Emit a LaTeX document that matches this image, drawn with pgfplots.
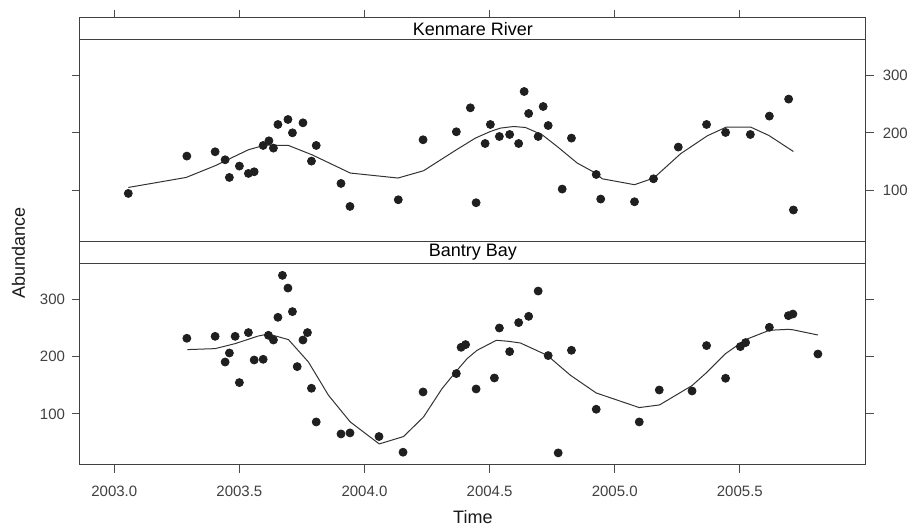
\documentclass[border=0pt]{standalone}
\usepackage{pgfplots}
\usepackage{pgfplotstable}
\pgfplotsset{compat=1.18}
\usepackage{fontspec}
\setmainfont{Liberation Sans}
\usetikzlibrary{calc}

% Kenmare River: observations and smooth
\pgfplotstableread{
x y
2003.056 94.8
2003.290 159.8
2003.403 167.3
2003.443 153.4
2003.460 122.6
2003.500 142.4
2003.536 129.6
2003.559 132.5
2003.595 178.3
2003.618 186.4
2003.636 173.7
2003.654 214.8
2003.694 223.5
2003.712 200.3
2003.754 217.7
2003.788 151.1
2003.807 178.3
2003.906 112.2
2003.942 72.2
2004.135 83.8
2004.234 188.2
2004.367 202.1
2004.423 243.8
2004.446 78.6
2004.482 181.7
2004.503 214.8
2004.539 193.9
2004.580 197.4
2004.616 181.7
2004.638 272.2
2004.656 233.9
2004.694 193.9
2004.714 246.1
2004.734 213.0
2004.790 102.4
2004.827 191.1
2004.926 127.8
2004.944 85.0
2005.079 80.3
2005.155 120.3
2005.254 175.5
2005.367 214.8
2005.443 200.9
2005.542 197.4
2005.618 229.4
2005.695 259.0
2005.714 66.0
}\kenpts

\pgfplotstableread{
x y
2003.056 105.2
2003.287 122.6
2003.403 143.0
2003.536 170.8
2003.603 179.0
2003.696 178.3
2003.790 162.1
2003.943 130.3
2004.134 121.6
2004.236 134.3
2004.363 169.6
2004.443 191.1
2004.503 202.6
2004.543 208.5
2004.596 211.3
2004.643 209.6
2004.710 196.9
2004.770 176.5
2004.850 147.7
2004.923 130.3
2004.950 120.3
2005.079 110.0
2005.156 121.6
2005.263 163.8
2005.370 195.1
2005.446 210.3
2005.543 210.3
2005.616 195.7
2005.714 167.8
}\kenfit

% Bantry Bay
\pgfplotstableread{
x y
2003.290 231.7
2003.403 235.1
2003.443 190.4
2003.460 206.1
2003.483 235.1
2003.500 154.6
2003.536 241.6
2003.559 193.9
2003.595 195.1
2003.616 236.9
2003.636 228.7
2003.654 268.2
2003.672 341.2
2003.694 319.1
2003.712 278.1
2003.731 182.4
2003.754 228.7
2003.772 241.6
2003.788 144.7
2003.807 86.1
2003.906 65.2
2003.942 67.0
2004.058 60.7
2004.154 33.4
2004.234 138.3
2004.367 170.3
2004.386 216.0
2004.404 220.7
2004.446 143.5
2004.519 162.6
2004.539 249.6
2004.580 208.5
2004.616 259.0
2004.656 269.9
2004.694 313.9
2004.734 201.6
2004.774 32.2
2004.827 210.8
2004.926 108.2
2005.098 86.1
2005.178 141.7
2005.309 140.0
2005.367 219.0
2005.443 162.1
2005.502 217.2
2005.523 224.2
2005.618 250.8
2005.694 271.1
2005.712 273.9
2005.812 204.3
}\banpts

\pgfplotstableread{
x y
2003.292 212.0
2003.403 213.7
2003.483 222.4
2003.576 235.7
2003.616 239.1
2003.696 229.4
2003.776 190.4
2003.856 132.5
2003.943 86.1
2004.059 47.8
2004.156 60.7
2004.236 94.8
2004.310 144.2
2004.370 176.0
2004.410 196.3
2004.450 210.8
2004.527 228.2
2004.576 226.4
2004.623 223.5
2004.730 202.1
2004.823 167.3
2004.926 136.5
2005.098 111.1
2005.179 115.7
2005.309 149.4
2005.367 172.0
2005.443 205.0
2005.523 229.4
2005.618 245.6
2005.694 247.3
2005.712 246.5
2005.812 237.4
}\banfit

\pgfplotsset{
  panel/.style={
    scale only axis, width=392.85pt, height=111.75pt,
    xmin=2002.863, xmax=2006.003, ymin=12, ymax=401,
    clip=false,
    axis line style={black!75, line width=0.5pt},
    tick align=outside, major tick length=4pt,
    tick style={black!70, line width=0.5pt},
    xtick={2003,2003.5,2004,2004.5,2005,2005.5},
    ytick={100,200,300},
    ticklabel style={font=\fontsize{7.5}{9}\selectfont, text=black!75},
    /pgf/number format/assume math mode=true,
  },
  pts/.style={only marks, mark=*, mark size=2pt, color=black!88},
  fit/.style={no marks, color=black!80, line width=0.5pt},
}

\begin{document}
\begin{tikzpicture}
\useasboundingbox (-40pt,-142.5pt) rectangle (414pt,120.5pt);

\begin{axis}[panel, name=top,
  xtick pos=upper, xticklabels={},
  yticklabel pos=right, ytick pos=both,
  yticklabel style={xshift=1pt}]
  \addplot[pts] table {\kenpts};
  \addplot[fit] table {\kenfit};
  \draw[black!75, line width=0.5pt] (axis cs:2002.863,362) -- (axis cs:2006.003,362);
  \node[font=\fontsize{9}{10.8}\selectfont, text=black] at (axis cs:2004.433,381.5) {Kenmare River};
\end{axis}

\begin{axis}[panel, name=bot, at={(0,-111.75pt)},
  xtick pos=lower,
  xticklabels={2003.0,2003.5,2004.0,2004.5,2005.0,2005.5},
  xticklabel style={yshift=-3pt},
  yticklabel pos=left, ytick pos=both]
  \addplot[pts] table {\banpts};
  \addplot[fit] table {\banfit};
  \draw[black!75, line width=0.5pt] (axis cs:2002.863,362) -- (axis cs:2006.003,362);
  \node[font=\fontsize{9}{10.8}\selectfont, text=black] at (axis cs:2004.433,381.5) {Bantry Bay};
\end{axis}

\node[rotate=90, font=\fontsize{9}{10.8}\selectfont, text=black!90]
  at ($(top.south west)+(-30.75pt,-6pt)$) {Abundance};
\node[anchor=base, font=\fontsize{9}{10.8}\selectfont, text=black!90]
  at ($(bot.south)+(0,-29.35pt)$) {Time};
\end{tikzpicture}
\end{document}
